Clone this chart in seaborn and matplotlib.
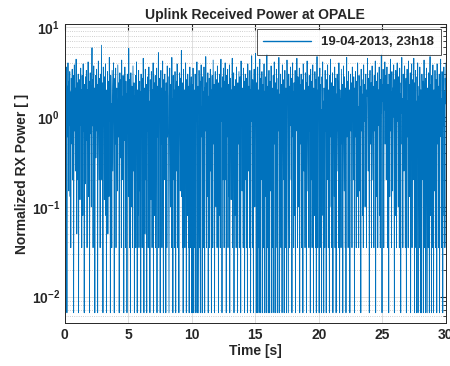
import numpy as np
import pandas as pd
import matplotlib
matplotlib.use("Agg")
import matplotlib.pyplot as plt
import seaborn as sns
from matplotlib.ticker import LogLocator, MultipleLocator

# --- trace values, one list per 2.5 s ---
rx_00 = [6.1, 0.9, 2.8, 0.08, 3.6, 1.4, 0.0066, 2.2, 0.6, 4.0, 1.1, 0.15, 2.5, 0.8, 3.2,
         0.13, 1.9, 0.035, 2.7, 1.2, 0.5, 3.4, 0.2, 1.6, 2.9, 0.0066, 1.0, 3.8, 0.7, 2.1,
         0.25, 1.5, 4.4, 0.9, 0.05, 2.4, 1.3, 0.2, 3.0, 0.0066, 1.8, 0.6, 2.6, 0.12, 1.1,
         3.5, 0.8, 2.0, 0.035, 2.9, 1.4, 0.08, 3.9, 0.7, 1.7, 0.0066, 2.3, 1.0, 0.18, 2.8,
         0.55, 3.3, 1.2, 0.035, 2.0, 0.9, 4.1, 0.13, 1.6, 2.5, 0.0066, 1.3, 3.1, 0.65, 2.2,
         0.1, 1.9, 5.9, 0.8, 2.6, 0.035, 1.5, 3.7, 0.5, 2.1, 0.0066, 1.1, 2.9, 0.35, 1.8]
rx_25 = [3.4, 0.7, 2.3, 0.0066, 1.6, 4.2, 0.9, 0.2, 2.7, 1.3, 0.035, 3.0, 0.6, 1.9, 6.3,
         0.2, 2.4, 1.0, 0.0066, 3.6, 0.8, 1.5, 0.12, 2.8, 1.2, 3.9, 0.08, 2.0, 0.0066, 1.7,
         0.6, 3.2, 0.05, 2.5, 1.1, 0.13, 4.6, 0.9, 1.8, 0.0066, 2.9, 0.7, 1.4, 0.035, 3.3,
         1.0, 0.25, 2.2, 4.0, 0.8, 0.0066, 1.6, 2.7, 0.5, 3.5, 0.035, 1.2, 2.1, 0.9, 0.15,
         3.8, 1.5, 0.6, 2.4, 0.0066, 1.9, 3.1, 0.35, 1.3, 2.6, 0.035, 4.3, 0.8, 1.7, 0.2,
         2.9, 1.1, 0.0066, 2.2, 0.55, 3.6, 1.4, 0.035, 2.5, 0.9, 1.8, 0.0066, 3.0, 0.7, 2.0]
rx_50 = [0.13, 5.8, 1.2, 0.035, 2.6, 0.8, 0.0066, 3.1, 1.5, 0.1, 2.2, 0.6, 0.035, 3.7, 1.0,
         0.25, 2.4, 0.0066, 1.7, 0.5, 2.9, 0.035, 1.3, 4.1, 0.7, 0.0066, 2.0, 0.08, 1.6, 3.3,
         0.035, 0.9, 2.5, 0.15, 1.9, 0.0066, 3.0, 0.6, 1.2, 0.035, 2.7, 0.2, 4.5, 1.1, 0.0066,
         2.1, 0.8, 0.05, 3.4, 1.4, 0.2, 2.3, 0.0066, 1.8, 0.7, 2.8, 0.035, 1.0, 3.6, 0.13,
         1.5, 0.0066, 2.6, 0.9, 0.12, 3.2, 1.3, 0.035, 2.0, 0.55, 4.0, 0.0066, 1.7, 2.4, 0.08,
         1.1, 2.9, 0.035, 1.6, 0.8, 3.5, 0.0066, 2.2, 0.6, 1.4, 5.2, 0.035, 1.9, 0.9, 2.7]
rx_75 = [0.0066, 1.8, 3.3, 0.5, 2.1, 0.035, 1.2, 4.2, 0.8, 0.0066, 2.6, 1.5, 0.2, 3.0, 0.7,
         1.9, 0.0066, 2.4, 1.0, 0.035, 3.7, 0.6, 1.4, 2.8, 0.08, 0.0066, 1.7, 3.5, 0.9, 0.1,
         2.3, 1.2, 0.035, 4.6, 0.7, 1.6, 0.0066, 2.9, 0.2, 2.0, 1.1, 0.035, 3.2, 0.8, 0.0066,
         1.5, 2.5, 0.25, 3.9, 1.3, 0.035, 2.2, 0.6, 0.0066, 1.8, 3.1, 0.9, 0.15, 2.7, 1.0,
         5.5, 0.13, 1.6, 0.035, 2.4, 0.0066, 3.4, 1.2, 0.5, 2.0, 0.035, 1.4, 4.0, 0.8, 0.0066,
         2.6, 1.1, 0.08, 3.0, 1.7, 0.035, 2.2, 0.0066, 1.3, 3.6, 0.7, 0.035, 1.9, 2.8, 0.0066]
rx_100 = [2.3, 0.8, 0.0066, 3.5, 1.2, 0.0066, 2.0, 0.5, 0.035, 3.0, 1.6, 0.0066, 2.6, 0.9, 4.1,
          0.0066, 1.4, 2.2, 0.08, 0.0066, 3.3, 1.0, 0.035, 2.5, 0.0066, 1.8, 3.8, 0.6, 1.3, 0.0066,
          2.8, 0.15, 1.9, 0.035, 3.6, 1.1, 0.0066, 2.1, 0.7, 4.7, 1.5, 0.035, 2.4, 0.13, 1.2,
          3.1, 0.0066, 1.7, 0.9, 2.7, 0.035, 1.0, 3.4, 0.25, 2.0, 0.0066, 1.6, 2.9, 0.6, 0.035,
          4.3, 1.3, 0.5, 2.3, 0.0066, 1.8, 3.2, 0.8, 0.1, 2.6, 1.4, 0.035, 3.7, 0.7, 1.9,
          0.0066, 2.4, 1.1, 0.08, 3.0, 0.035, 1.5, 4.4, 0.9, 2.1, 0.0066, 1.2, 2.8, 0.2, 3.5]
rx_125 = [1.6, 0.035, 2.5, 0.9, 4.0, 0.2, 1.3, 0.0066, 2.9, 0.6, 1.8, 3.4, 0.035, 1.1, 2.3,
          0.13, 3.8, 0.0066, 1.5, 2.7, 0.8, 0.12, 2.0, 1.2, 4.5, 0.035, 1.7, 0.6, 3.1, 0.0066,
          2.2, 1.0, 0.08, 2.6, 1.4, 0.035, 3.6, 0.7, 1.9, 0.0066, 2.4, 0.5, 1.2, 3.2, 0.035,
          0.9, 2.8, 1.5, 0.0066, 4.2, 0.8, 1.7, 0.15, 2.1, 1.1, 0.035, 3.5, 0.6, 2.5, 0.0066,
          1.3, 3.0, 0.2, 1.8, 0.035, 2.7, 1.0, 0.0066, 3.9, 1.4, 0.25, 2.2, 0.7, 0.035, 3.3,
          1.6, 0.0066, 2.0, 0.9, 4.8, 1.2, 0.035, 2.6, 0.5, 0.0066, 1.9, 3.4, 0.8, 0.1, 2.3]
rx_150 = [5.1, 1.0, 0.0066, 2.4, 0.6, 0.0066, 3.6, 1.3, 0.035, 2.0, 0.0066, 1.7, 4.4, 0.8, 0.0066,
          2.7, 1.1, 0.2, 3.2, 0.0066, 1.5, 2.3, 0.035, 0.7, 3.9, 0.0066, 1.9, 1.2, 0.13, 2.8,
          0.0066, 1.4, 5.0, 0.9, 0.035, 2.2, 0.0066, 1.6, 3.3, 0.6, 0.0066, 2.5, 1.0, 0.15, 3.7,
          1.3, 0.0066, 2.1, 0.8, 0.035, 2.9, 1.7, 0.0066, 4.1, 0.5, 1.2, 2.4, 0.0066, 0.9, 3.4,
          1.5, 0.035, 2.0, 0.0066, 2.7, 0.7, 4.6, 1.1, 0.0066, 1.8, 0.08, 3.0, 0.035, 1.4, 2.3,
          0.0066, 3.8, 0.9, 1.6, 0.2, 2.6, 0.0066, 1.2, 3.3, 0.6, 0.035, 2.1, 1.0, 0.0066, 4.3]
rx_175 = [1.4, 2.5, 0.13, 0.0066, 3.0, 1.1, 0.035, 2.2, 0.8, 3.6, 1.5, 0.2, 2.7, 0.0066, 1.3,
          4.0, 0.6, 1.9, 0.035, 2.4, 1.0, 0.08, 3.3, 0.0066, 1.6, 2.1, 0.7, 4.5, 1.2, 0.035,
          2.8, 0.9, 0.1, 1.8, 3.5, 0.0066, 2.3, 1.4, 0.5, 3.0, 0.035, 1.1, 2.6, 0.8, 0.0066,
          3.9, 1.7, 0.25, 2.0, 1.2, 0.035, 3.1, 0.6, 2.4, 0.0066, 1.5, 4.2, 0.9, 0.15, 2.2,
          1.3, 0.035, 2.9, 0.7, 1.8, 0.0066, 3.4, 1.0, 0.2, 2.5, 0.035, 1.6, 3.8, 0.8, 0.0066,
          2.1, 1.2, 0.08, 3.2, 1.9, 0.035, 2.6, 0.0066, 1.4, 4.7, 0.6, 0.035, 2.0, 1.1, 2.8]
rx_200 = [0.0066, 1.7, 3.5, 0.5, 2.3, 0.035, 1.2, 0.0066, 2.8, 0.9, 4.1, 0.08, 1.5, 0.0066, 2.1,
          1.0, 0.035, 3.3, 0.7, 1.9, 0.0066, 2.6, 1.3, 0.2, 3.8, 0.8, 0.035, 2.0, 1.5, 0.0066,
          2.9, 0.6, 4.4, 1.1, 0.1, 2.4, 0.035, 1.7, 3.1, 0.0066, 0.9, 2.2, 1.4, 0.13, 3.6,
          0.035, 1.2, 2.7, 0.0066, 1.8, 0.7, 3.0, 1.0, 0.25, 2.5, 0.035, 4.0, 1.3, 0.0066, 2.0,
          0.8, 1.6, 0.035, 3.4, 1.1, 0.5, 2.3, 0.0066, 1.4, 3.7, 0.9, 0.15, 2.8, 1.2, 0.035,
          2.1, 0.0066, 1.7, 4.6, 0.6, 1.0, 2.5, 0.035, 3.2, 1.5, 0.08, 2.0, 0.0066, 1.3, 3.0]
rx_225 = [0.7, 2.4, 1.2, 0.035, 3.6, 0.9, 1.7, 0.2, 2.8, 1.4, 0.0066, 2.1, 0.6, 3.2, 1.0,
          0.035, 2.5, 1.6, 0.13, 4.0, 0.8, 1.3, 0.035, 2.9, 1.9, 0.15, 2.2, 1.1, 0.0066, 3.4,
          0.7, 1.5, 2.6, 0.08, 1.8, 0.035, 3.8, 1.2, 0.9, 2.3, 0.1, 1.4, 3.0, 0.6, 0.035,
          2.0, 1.7, 4.5, 0.8, 0.25, 2.7, 1.1, 0.0066, 1.9, 3.3, 0.5, 1.3, 2.4, 0.035, 1.6,
          3.7, 0.9, 0.2, 2.2, 1.5, 0.035, 2.9, 0.7, 1.2, 4.2, 0.0066, 1.8, 2.5, 0.13, 1.0,
          3.1, 0.035, 1.4, 2.0, 0.8, 3.6, 0.08, 1.7, 0.035, 2.6, 1.1, 5.0, 0.6, 0.0066, 2.3]
rx_250 = [1.5, 3.4, 0.9, 0.035, 2.7, 1.2, 4.1, 0.5, 1.8, 2.9, 0.2, 1.4, 3.6, 0.8, 0.035,
          2.3, 1.6, 0.0066, 3.0, 1.1, 0.13, 2.5, 4.4, 0.7, 1.9, 0.035, 3.2, 1.3, 0.15, 2.1,
          1.0, 3.8, 0.6, 0.0066, 2.6, 1.7, 0.08, 3.3, 1.2, 0.035, 2.0, 4.0, 0.9, 1.5, 0.1,
          2.8, 1.4, 0.035, 3.5, 0.7, 1.8, 0.0066, 2.4, 1.1, 4.6, 0.5, 1.6, 0.035, 3.0, 1.3,
          0.25, 2.2, 3.7, 0.8, 0.035, 1.9, 2.7, 0.0066, 1.2, 3.4, 0.6, 1.5, 0.035, 4.2, 1.0,
          2.3, 0.13, 1.7, 3.1, 0.0066, 2.0, 0.9, 3.9, 0.035, 1.4, 2.6, 0.2, 1.8, 4.5, 1.1]
rx_275 = [0.0066, 2.4, 0.8, 3.3, 0.035, 1.5, 0.0066, 2.8, 1.1, 4.0, 0.0066, 1.7, 0.5, 2.2, 0.035,
          3.6, 1.3, 0.0066, 2.0, 0.7, 0.0066, 3.0, 1.6, 0.2, 2.5, 0.0066, 1.0, 4.3, 0.6, 0.035,
          1.9, 2.7, 0.0066, 1.2, 3.5, 0.13, 0.0066, 2.1, 1.4, 0.035, 3.1, 0.9, 0.0066, 1.8, 4.7,
          0.08, 2.3, 1.1, 0.0066, 2.9, 0.035, 1.5, 3.8, 0.7, 0.0066, 2.0, 1.3, 0.15, 3.3, 0.8,
          0.035, 2.6, 1.7, 0.0066, 3.9, 1.0, 0.5, 2.2, 0.035, 1.4, 3.0, 0.0066, 0.9, 2.5, 4.4,
          0.6, 1.6, 0.035, 3.2, 1.2, 0.0066, 2.0, 0.8, 3.6, 0.08, 1.9, 0.035, 2.7, 1.4, 4.0]

LEGEND_LABEL = "19-04-2013, 23h18"
T_END = 30

power = (rx_00 + rx_25 + rx_50 + rx_75 + rx_100 + rx_125 +
         rx_150 + rx_175 + rx_200 + rx_225 + rx_250 + rx_275)
df = pd.DataFrame({"time": np.linspace(0, T_END, len(power)), "power": power})

sns.set_style("white")
plt.rcParams["font.family"] = ["Liberation Sans", "DejaVu Sans"]
plt.rcParams["font.weight"] = "bold"
plt.rcParams["mathtext.fontset"] = "custom"
plt.rcParams["mathtext.bf"] = "Liberation Sans:bold"
plt.rcParams["mathtext.rm"] = "Liberation Sans:bold"
plt.rcParams["mathtext.default"] = "bf"

fig = plt.figure(figsize=(4.5, 3.66), dpi=100)
ax = fig.add_axes([0.144, 0.118, 0.847, 0.816])

sns.lineplot(data=df, x="time", y="power", ax=ax, estimator=None, sort=False,
             color="#0072BD", linewidth=0.6, label=LEGEND_LABEL)

ax.set_yscale("log")
ax.set_xlim(0, T_END)
ax.set_ylim(0.0051, 10.8)
ax.xaxis.set_major_locator(MultipleLocator(5))
ax.yaxis.set_major_locator(LogLocator(base=10, numticks=10))
ax.yaxis.set_minor_locator(LogLocator(base=10, subs=np.arange(2, 10), numticks=20))

ax.grid(True, which="major", color="#d9d9d9", linewidth=0.6)
ax.grid(True, which="minor", axis="y", color="#bfbfbf", linestyle=":", linewidth=0.6)
ax.set_axisbelow(True)
ax.tick_params(direction="in", which="both", top=True, right=True, labelsize=10, color="#262626")
ax.tick_params(which="major", length=4)
ax.tick_params(which="minor", length=2)
for s in ax.spines.values():
    s.set_color("#262626")
    s.set_linewidth(0.7)

ax.set_title("Uplink Received Power at OPALE", fontsize=10, fontweight="bold", pad=4)
ax.set_xlabel("Time [s]", fontsize=10, fontweight="bold", labelpad=2)
ax.set_ylabel("Normalized RX Power [ ]", fontsize=10, fontweight="bold", labelpad=2)

leg = ax.legend(loc="upper right", fontsize=9.5, frameon=True, fancybox=False,
                borderaxespad=0.4, handlelength=3.6, borderpad=0.5)
leg.get_frame().set_edgecolor("#262626")
leg.get_frame().set_linewidth(0.7)
for line in leg.get_lines():
    line.set_linewidth(1.0)

fig.savefig("out.png", dpi=100)
